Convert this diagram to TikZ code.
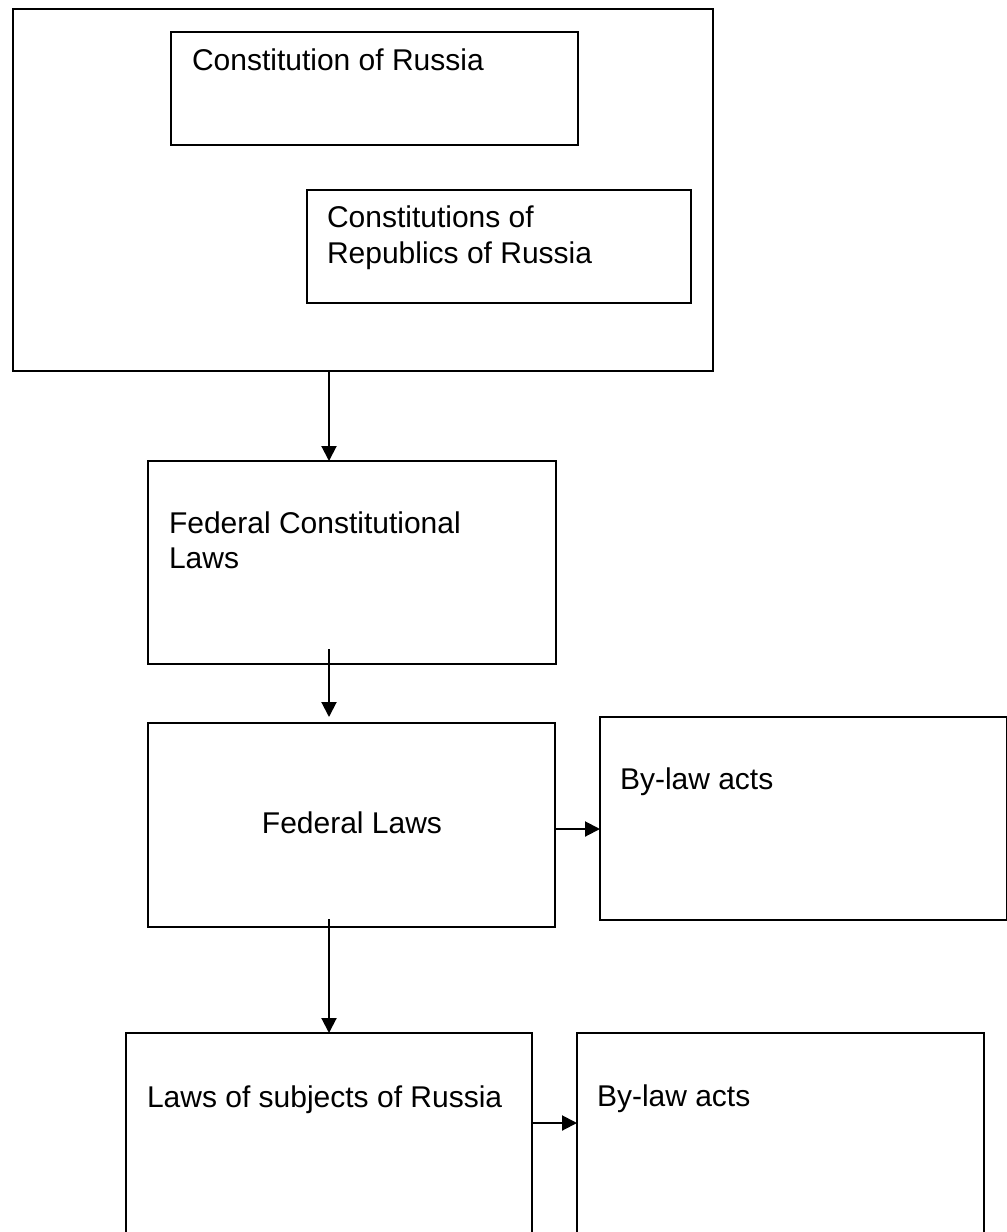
\documentclass[tikz,border=0pt]{standalone}
\usepackage{fontspec}
\setmainfont{Liberation Sans}
\usetikzlibrary{arrows.meta,calc}
\tikzset{
  box/.style={draw=black, line width=1pt, rectangle, inner sep=0pt, outer sep=0pt, anchor=north west},
  lbl/.style={inner sep=0pt, outer sep=0pt, anchor=base west, font=\fontsize{15pt}{18pt}\selectfont},
  arr/.style={draw=black, line width=1pt, -{Triangle[length=7.5pt,width=7.5pt]}}
}
\begin{document}
\begin{tikzpicture}[x=0.5pt,y=-0.5pt]
\useasboundingbox (0,0) rectangle (1007,1232);
\clip (0,0) rectangle (1007,1232);
% boxes
\node[box, minimum width=350pt, minimum height=181pt] (outer) at (13,9) {};
\node[box, minimum width=203.5pt, minimum height=56.5pt] (const) at (171,32) {};
\node[box, minimum width=192pt, minimum height=56.5pt] (rep) at (307,190) {};
\node[box, minimum width=204pt, minimum height=101.5pt] (fcl) at (148,461) {};
\node[box, minimum width=203.5pt, minimum height=102pt] (fl) at (148,723) {};
\node[box, minimum width=203.5pt, minimum height=101.5pt] (bl1) at (600,717) {};
\node[box, minimum width=203pt, minimum height=150pt] (ls) at (126,1033) {};
\node[box, minimum width=203.5pt, minimum height=150pt] (bl2) at (577,1033) {};
% texts
\node[lbl] (tconst) at (192,70) {Constitution of Russia};
\node[lbl] (trep1) at (327,227) {Constitutions of};
\node[lbl] (trep2) at (327,263) {Republics of Russia};
\node[lbl] (tfcl1) at (169,533) {Federal Constitutional};
\node[lbl] (tfcl2) at (169,568) {Laws};
\node[lbl, anchor=base] (tfl) at (352,833) {Federal Laws};
\node[lbl] (tbl1) at (620,789) {By-law acts};
\node[lbl] (tls) at (147,1107) {Laws of subjects of Russia};
\node[lbl] (tbl2) at (597,1106) {By-law acts};
% connectors
\coordinate (cx) at (329,0);
\coordinate (r1) at (0,829);
\coordinate (r2) at (0,1123);
\draw[arr] (outer.south -| cx) -- (fcl.north -| cx);
\draw[arr] ($(fcl.south -| cx)+(0,-15)$) -- ($(fl.north -| cx)+(0,-6)$);
\draw[arr] ($(fl.south -| cx)+(0,-8)$) -- (ls.north -| cx);
\draw[arr] (fl.east |- r1) -- (bl1.west |- r1);
\draw[arr] (ls.east |- r2) -- (bl2.west |- r2);
\end{tikzpicture}
\end{document}
